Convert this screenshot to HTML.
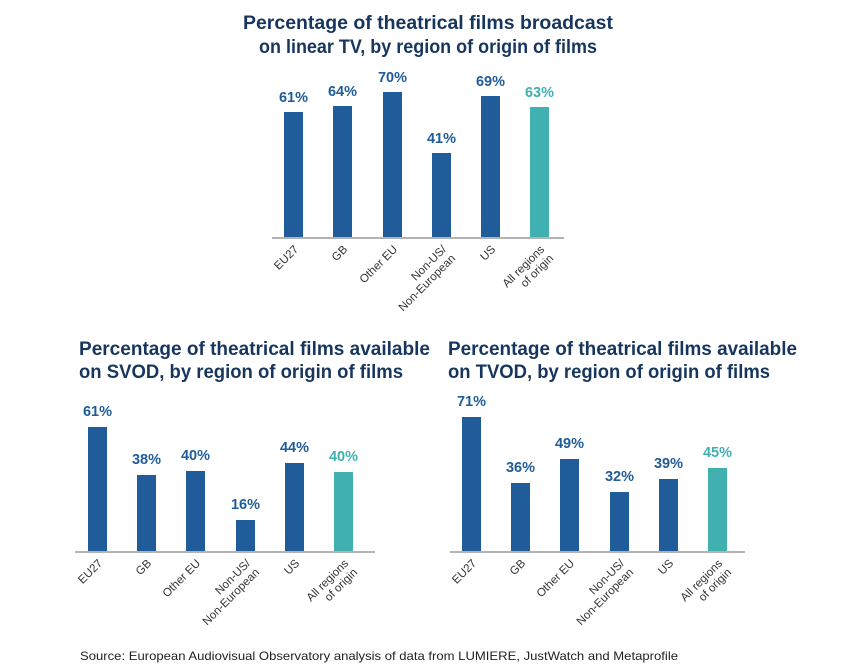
<!DOCTYPE html>
<html><head><meta charset="utf-8"><style>
html,body{margin:0;padding:0;background:#fff;}
svg{display:block;font-family:"Liberation Sans",sans-serif;}
.t{font-weight:bold;font-size:19px;fill:#17365d;}
.v{font-weight:bold;font-size:14.5px;fill:#1f5c99;text-anchor:middle;}
.vt{font-weight:bold;font-size:14.5px;fill:#40b0b0;text-anchor:middle;}
.c{font-size:11.5px;fill:#333;text-anchor:end;}
.b{fill:#1f5c99;}.bt{fill:#40b0b0;}
.ax{stroke:#b3b3b3;stroke-width:2;}
</style></head><body>
<svg width="852" height="668" viewBox="0 0 852 668">
<text class="t" x="428" y="29" text-anchor="middle" textLength="370" lengthAdjust="spacingAndGlyphs">Percentage of theatrical films broadcast</text>
<text class="t" x="428" y="53" text-anchor="middle" textLength="338" lengthAdjust="spacingAndGlyphs">on linear TV, by region of origin of films</text>
<text class="t" x="79" y="355" textLength="351" lengthAdjust="spacingAndGlyphs">Percentage of theatrical films available</text>
<text class="t" x="79" y="378" textLength="324" lengthAdjust="spacingAndGlyphs">on SVOD, by region of origin of films</text>
<text class="t" x="448" y="355" textLength="349" lengthAdjust="spacingAndGlyphs">Percentage of theatrical films available</text>
<text class="t" x="448" y="378" textLength="322" lengthAdjust="spacingAndGlyphs">on TVOD, by region of origin of films</text>

<!-- chart 1 -->
<line class="ax" x1="272" y1="238" x2="564" y2="238"/>
<rect class="b" x="284" y="112" width="19" height="125"/><text class="v" x="293.5" y="102">61%</text>
<rect class="b" x="333" y="106" width="19" height="131"/><text class="v" x="342.5" y="96">64%</text>
<rect class="b" x="383" y="92" width="19" height="145"/><text class="v" x="392.5" y="82">70%</text>
<rect class="b" x="432" y="153" width="19" height="84"/><text class="v" x="441.5" y="143">41%</text>
<rect class="b" x="481" y="96" width="19" height="141"/><text class="v" x="490.5" y="86">69%</text>
<rect class="bt" x="530" y="107" width="19" height="130"/><text class="vt" x="539.5" y="97">63%</text>
<g class="c">
<text transform="translate(299,250) rotate(-45)">EU27</text>
<text transform="translate(348,250) rotate(-45)">GB</text>
<text transform="translate(398,250) rotate(-45)">Other EU</text>
<text transform="translate(447,250) rotate(-45)">Non-US/</text>
<text transform="translate(456,259) rotate(-45)">Non-European</text>
<text transform="translate(496,250) rotate(-45)">US</text>
<text transform="translate(545,250) rotate(-45)">All regions</text>
<text transform="translate(554,259) rotate(-45)">of origin</text>
</g>

<!-- chart 2 -->
<line class="ax" x1="75" y1="552" x2="375" y2="552"/>
<rect class="b" x="88" y="427" width="19" height="124"/><text class="v" x="97.5" y="416">61%</text>
<rect class="b" x="137" y="475" width="19" height="76"/><text class="v" x="146.5" y="464">38%</text>
<rect class="b" x="186" y="471" width="19" height="80"/><text class="v" x="195.5" y="460">40%</text>
<rect class="b" x="236" y="520" width="19" height="31"/><text class="v" x="245.5" y="509">16%</text>
<rect class="b" x="285" y="463" width="19" height="88"/><text class="v" x="294.5" y="452">44%</text>
<rect class="bt" x="334" y="472" width="19" height="79"/><text class="vt" x="343.5" y="461">40%</text>
<g class="c">
<text transform="translate(103,564) rotate(-45)">EU27</text>
<text transform="translate(152,564) rotate(-45)">GB</text>
<text transform="translate(201,564) rotate(-45)">Other EU</text>
<text transform="translate(251,564) rotate(-45)">Non-US/</text>
<text transform="translate(260,573) rotate(-45)">Non-European</text>
<text transform="translate(300,564) rotate(-45)">US</text>
<text transform="translate(349,564) rotate(-45)">All regions</text>
<text transform="translate(358,573) rotate(-45)">of origin</text>
</g>

<!-- chart 3 -->
<line class="ax" x1="450" y1="552" x2="745" y2="552"/>
<rect class="b" x="462" y="417" width="19" height="134"/><text class="v" x="471.5" y="406">71%</text>
<rect class="b" x="511" y="483" width="19" height="68"/><text class="v" x="520.5" y="472">36%</text>
<rect class="b" x="560" y="459" width="19" height="92"/><text class="v" x="569.5" y="448">49%</text>
<rect class="b" x="610" y="492" width="19" height="59"/><text class="v" x="619.5" y="481">32%</text>
<rect class="b" x="659" y="479" width="19" height="72"/><text class="v" x="668.5" y="468">39%</text>
<rect class="bt" x="708" y="468" width="19" height="83"/><text class="vt" x="717.5" y="457">45%</text>
<g class="c">
<text transform="translate(477,564) rotate(-45)">EU27</text>
<text transform="translate(526,564) rotate(-45)">GB</text>
<text transform="translate(575,564) rotate(-45)">Other EU</text>
<text transform="translate(625,564) rotate(-45)">Non-US/</text>
<text transform="translate(634,573) rotate(-45)">Non-European</text>
<text transform="translate(674,564) rotate(-45)">US</text>
<text transform="translate(723,564) rotate(-45)">All regions</text>
<text transform="translate(732,573) rotate(-45)">of origin</text>
</g>

<text x="80" y="660" font-size="12" fill="#222" textLength="598" lengthAdjust="spacingAndGlyphs">Source: European Audiovisual Observatory analysis of data from LUMIERE, JustWatch and Metaprofile</text>
</svg>
</body></html>
